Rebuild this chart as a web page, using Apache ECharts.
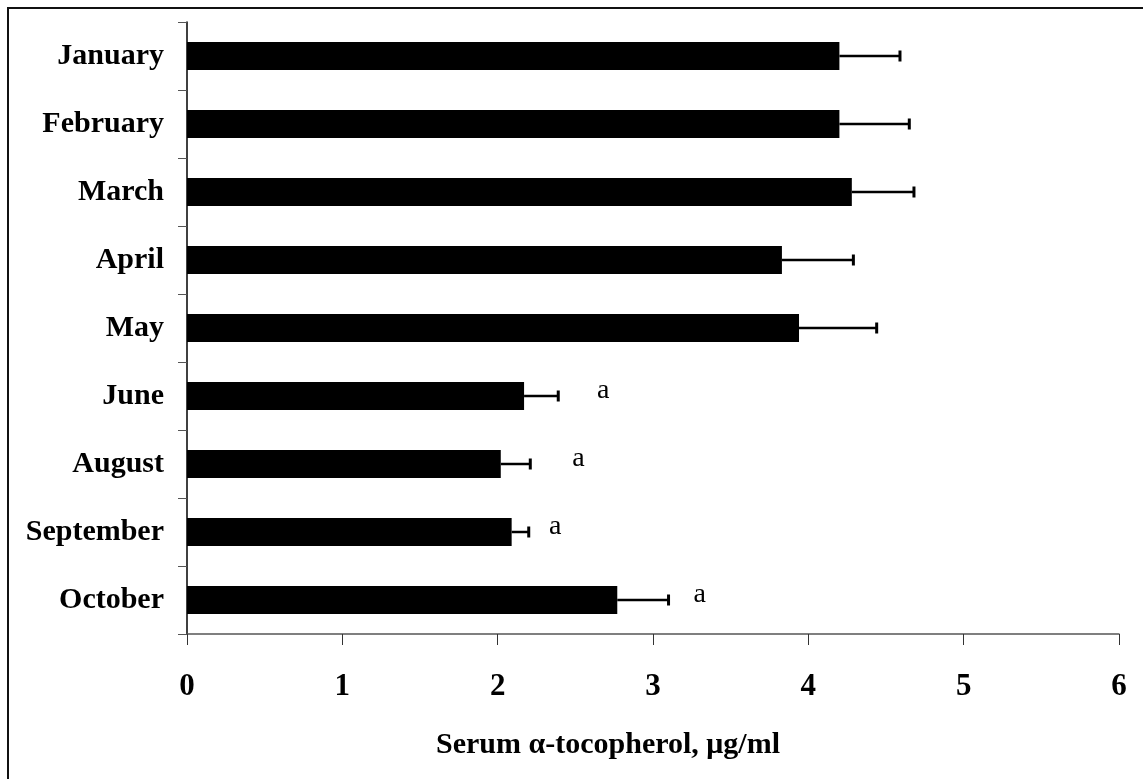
<!DOCTYPE html>
<html>
<head>
<meta charset="utf-8">
<script src="https://cdn.jsdelivr.net/npm/echarts@6/dist/echarts.min.js"></script>
<style>
  html, body { margin: 0; padding: 0; background: #fff; }
  #chart { width: 1143px; height: 779px; }
</style>
</head>
<body>
<div id="chart"></div>
<script>
// months, top to bottom
var months = ['January', 'February', 'March', 'April', 'May', 'June', 'August', 'September', 'October'];
// mean serum alpha-tocopherol, ug/ml
var means = [4.20, 4.20, 4.28, 3.83, 3.94, 2.17, 2.02, 2.09, 2.77];
// standard error (upper whisker only)
var errors = [0.39, 0.45, 0.40, 0.46, 0.50, 0.22, 0.19, 0.11, 0.33];
// significance letters and where they sit on the value axis
var notes = ['', '', '', '', '', 'a', 'a', 'a', 'a'];
var noteX = [null, null, null, null, null, 2.68, 2.52, 2.37, 3.30];
var xTicks = [0, 1, 2, 3, 4, 5, 6];

var myChart = echarts.init(document.getElementById('chart'));

var errData = months.map(function (m, i) { return [means[i], means[i] + errors[i], i]; });
var noteData = [];
months.forEach(function (m, i) {
    if (notes[i]) noteData.push({ value: [noteX[i], i], label: { formatter: notes[i] } });
});

var option = {
    animation: false,
    backgroundColor: '#fff',
    textStyle: { fontFamily: 'Liberation Serif' },
    graphic: [{
        type: 'rect',
        shape: { x: 8, y: 8, width: 1200, height: 900 },
        style: { fill: 'none', stroke: '#111', lineWidth: 2 }
    }],
    grid: { left: 187, right: 24, top: 22, bottom: 145, containLabel: false },
    xAxis: {
        type: 'value',
        min: 0,
        max: xTicks[xTicks.length - 1],
        interval: 1,
        splitLine: { show: false },
        axisLine: { show: true, lineStyle: { color: '#555', width: 1.5 } },
        axisTick: { show: true, length: 11, lineStyle: { color: '#333', width: 1 } },
        axisLabel: { margin: 37, color: '#000', fontSize: 31, fontWeight: 'bold', fontFamily: 'Liberation Serif' },
        name: 'Serum \u03b1-tocopherol, \u03bcg/ml',
        nameLocation: 'middle',
        nameGap: 96,
        nameTextStyle: { color: '#000', fontSize: 30, fontWeight: 'bold', fontFamily: 'Liberation Serif', padding: [0, 90, 0, 0] }
    },
    yAxis: {
        type: 'category',
        data: months,
        inverse: true,
        axisLine: { show: true, lineStyle: { color: '#000', width: 1.5 } },
        axisTick: { show: true, length: 9, lineStyle: { color: '#555', width: 1 } },
        axisLabel: { margin: 23, color: '#000', fontSize: 30, fontWeight: 'bold', fontFamily: 'Liberation Serif' }
    },
    series: [
        {
            name: 'mean',
            type: 'bar',
            data: means,
            barWidth: 28,
            itemStyle: { color: '#000' }
        },
        {
            name: 'error',
            type: 'custom',
            data: errData,
            encode: { x: [0, 1], y: 2 },
            z: 3,
            renderItem: function (params, api) {
                var start = api.coord([api.value(0), api.value(2)]);
                var end = api.coord([api.value(1), api.value(2)]);
                var h = 5.5;
                return {
                    type: 'group',
                    children: [
                        { type: 'line', shape: { x1: start[0], y1: start[1], x2: end[0], y2: end[1] }, style: { stroke: '#000', lineWidth: 2.5 } },
                        { type: 'line', shape: { x1: end[0], y1: end[1] - h, x2: end[0], y2: end[1] + h }, style: { stroke: '#000', lineWidth: 3 } }
                    ]
                };
            }
        },
        {
            name: 'notes',
            type: 'scatter',
            data: noteData,
            symbolSize: 0,
            itemStyle: { opacity: 1, color: '#000' },
            label: {
                show: true,
                position: 'inside',
                offset: [0, -5],
                color: '#000',
                opacity: 1,
                fontSize: 28,
                fontFamily: 'Liberation Serif'
            }
        }
    ]
};

myChart.setOption(option);
</script>
</body>
</html>
